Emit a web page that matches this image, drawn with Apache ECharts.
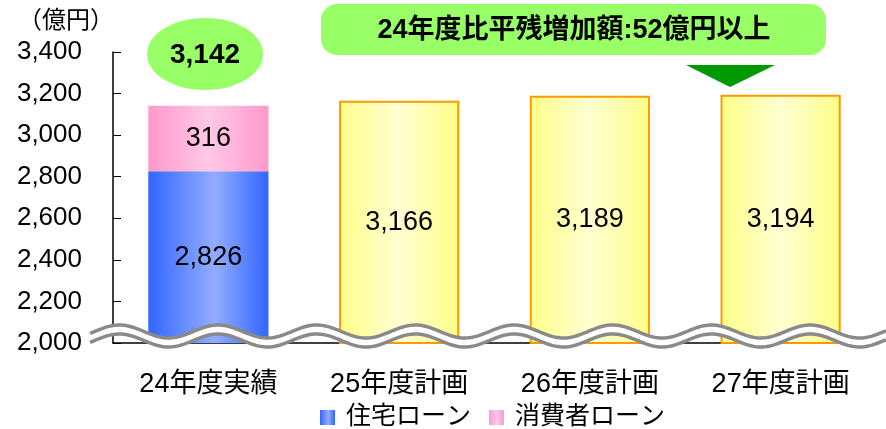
<!DOCTYPE html>
<html>
<head>
<meta charset="utf-8">
<script src="https://cdn.jsdelivr.net/npm/echarts@6/dist/echarts.min.js"></script>
<style>
  html, body { margin: 0; padding: 0; background: #fff; }
  #chart { width: 886px; height: 429px; }
</style>
</head>
<body>
<div id="chart"></div>
<script>
// Loan balance (億円): actual for FY24, plans for FY25-27
const categories = ['24年度実績', '25年度計画', '26年度計画', '27年度計画'];
const housingLoan = [2826, '-', '-', '-'];
const consumerLoan = [316, '-', '-', '-'];
const planTotal = ['-', 3166, 3189, 3194];
const yMin = 2000, yMax = 3400, yStep = 200;
const headline = '24年度比平残増加額:52億円以上';
const unitLabel = '（億円）';

const FONT = '"Liberation Sans", Arial, "Noto Sans CJK JP", sans-serif';
const fmt = v => Number(v).toLocaleString('en-US');
const actualTotal = housingLoan[0] + consumerLoan[0];

function hGrad(edge, mid, pos) {
  return new echarts.graphic.LinearGradient(0, 0, 1, 0, [
    { offset: 0, color: edge },
    { offset: pos, color: mid },
    { offset: 1, color: edge }
  ]);
}

// Wavy axis-break band drawn across the bottom of the plot
function waveBand() {
  const top = [], bottom = [];
  for (let x = 90; x <= 886; x += 2) {
    const y = 331.5 - 6.5 * Math.cos(2 * Math.PI * (x - 218) / 98.7);
    top.push([x, y]);
    bottom.push([x, y + 9]);
  }
  const band = top.concat(bottom.slice().reverse());
  return [
    { type: 'polygon', z: 50, shape: { points: band }, style: { fill: '#fff' } },
    { type: 'polyline', z: 51, shape: { points: top, smooth: 0 },
      style: { stroke: '#8a8a8a', lineWidth: 3.5, fill: null } },
    { type: 'polyline', z: 51, shape: { points: bottom, smooth: 0 },
      style: { stroke: '#8a8a8a', lineWidth: 3.5, fill: null } }
  ];
}

const chart = echarts.init(document.getElementById('chart'), null, { renderer: 'canvas' });

const labelStyle = {
  show: true, position: 'inside', color: '#000',
  fontSize: 27, fontFamily: FONT,
  formatter: p => fmt(p.value)
};

chart.setOption({
  animation: false,
  backgroundColor: '#fff',
  textStyle: { fontFamily: FONT },
  grid: { left: 113, right: 10, top: 52, bottom: 86 },
  legend: {
    left: 320, top: 405, padding: 0,
    icon: 'rect',
    itemWidth: 15, itemHeight: 15, itemGap: 18,
    data: ['住宅ローン', '消費者ローン'],
    textStyle: { fontSize: 25, color: '#000', fontFamily: FONT, padding: [0, 0, 0, 6] }
  },
  xAxis: {
    type: 'category',
    data: categories,
    axisLine: { lineStyle: { color: '#000', width: 1.5 } },
    axisTick: { inside: true, length: 6, lineStyle: { color: '#000' } },
    axisLabel: { color: '#000', fontSize: 27, margin: 28, fontFamily: FONT }
  },
  yAxis: {
    type: 'value',
    min: yMin, max: yMax, interval: yStep,
    splitLine: { show: false },
    axisLine: { show: true, lineStyle: { color: '#000', width: 1.5 } },
    axisTick: { show: true, inside: true, length: 8, lineStyle: { color: '#000' } },
    axisLabel: { color: '#000', fontSize: 26, margin: 31, fontFamily: FONT, formatter: v => fmt(v) }
  },
  series: [
    {
      name: '住宅ローン', type: 'bar', stack: 'bal', barWidth: '63%',
      data: housingLoan,
      itemStyle: { color: hGrad('#3366ff', '#92acff', 0.55) },
      label: labelStyle
    },
    {
      name: '消費者ローン', type: 'bar', stack: 'bal', barWidth: '63%',
      data: consumerLoan,
      itemStyle: { color: hGrad('#ff99cc', '#ffc8e6', 0.5) },
      label: labelStyle
    },
    {
      name: '計画', type: 'bar', stack: 'bal', barWidth: '63%',
      data: planTotal,
      itemStyle: { color: hGrad('#ffff88', '#ffffd2', 0.5), borderColor: '#ff9900', borderWidth: 2 },
      label: labelStyle
    }
  ],
  graphic: [
    { type: 'text', left: 18, top: 9,
      style: { text: unitLabel, fontSize: 24, fill: '#000', fontFamily: FONT } },
    // total of FY24 actual
    { type: 'ellipse', shape: { cx: 205, cy: 54, rx: 58, ry: 36 }, style: { fill: '#99ff66' } },
    { type: 'text', x: 205, y: 55,
      style: { text: fmt(actualTotal), fontSize: 28, fontWeight: 'bold', fill: '#000',
               fontFamily: FONT, align: 'center', verticalAlign: 'middle' } },
    // headline banner
    { type: 'rect', shape: { x: 321, y: 4, width: 505, height: 51, r: 16 }, style: { fill: '#99ff66' } },
    { type: 'text', x: 574, y: 31,
      style: { text: headline, fontSize: 27, fontWeight: 'bold', fill: '#000',
               fontFamily: FONT, align: 'center', verticalAlign: 'middle' } },
    // pointer arrow
    { type: 'polygon', shape: { points: [[686, 65], [775, 65], [730, 87]] }, style: { fill: '#009900' } }
  ].concat(waveBand())
});
</script>
</body>
</html>
